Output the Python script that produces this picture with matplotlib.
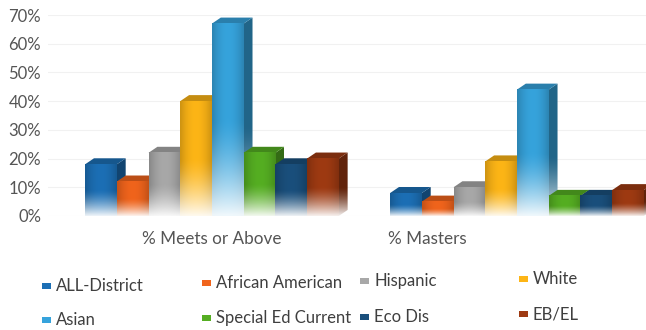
import numpy as np
import matplotlib
matplotlib.use("Agg")
import matplotlib.pyplot as plt
from matplotlib.patches import Polygon, Rectangle
from matplotlib.ticker import PercentFormatter

plt.rcParams['font.family'] = ['Lato', 'DejaVu Sans']

groups = ['% Meets or Above', '% Masters']
series = ['ALL-District', 'African American', 'Hispanic', 'White',
          'Asian', 'Special Ed Current', 'Eco Dis', 'EB/EL']
meets = [18, 12, 22, 40, 67, 22, 18, 20]
masters = [8, 5, 10, 19, 44, 7, 7, 9]
colors = ['#1c6fb5', '#f0641c', '#a8a8a8', '#fdb516',
          '#36a3dc', '#55ae22', '#1a4f7c', '#9e3a12']

values = np.array([meets, masters])

W, H = 646, 330
fig = plt.figure(figsize=(W / 100, H / 100), dpi=100)
ax = fig.add_axes([48 / W, 114 / H, 598 / W, 201 / H])

group_gap = 9.62          # distance between group centres, in bar widths
depth_x, depth_y = 0.28, 2.1


def face_gradient(base, n=80, m=20, fade=0.5, edge=0.18):
    t = np.linspace(0, 1, n)[:, None]
    s = np.linspace(-1, 1, m)[None, :]
    f = np.clip(1 - t / fade, 0, 1) ** 1.4 * 0.92
    shade = 1 - edge * s ** 2
    base = np.asarray(matplotlib.colors.to_rgb(base))
    img = base[None, None, :] * shade[..., None]
    img = img * (1 - f[..., None]) + f[..., None]
    return np.clip(img, 0, 1)


z = 2
for g in range(len(groups)):
    centre = g * group_gap
    for i, v in enumerate(values[g]):
        left = centre - 4 + i
        right = left + 1
        c = np.asarray(matplotlib.colors.to_rgb(colors[i]))

        # side face
        side = Polygon([(right, 0), (right + depth_x, depth_y),
                        (right + depth_x, v + depth_y), (right, v)],
                       closed=True, facecolor='none', edgecolor='none')
        ax.add_patch(side)
        im = ax.imshow(face_gradient(c * 0.62, edge=0.0, fade=0.45),
                       extent=[right, right + depth_x, 0, v + depth_y],
                       origin='lower', aspect='auto', interpolation='bilinear',
                       zorder=z)
        im.set_clip_path(side)

        # top face
        ax.add_patch(Polygon([(left, v), (left + depth_x, v + depth_y),
                              (right + depth_x, v + depth_y), (right, v)],
                             closed=True, facecolor=c * 0.78, edgecolor='none',
                             zorder=z + 0.1))

        # front face
        ax.imshow(face_gradient(c), extent=[left, right, 0, v],
                  origin='lower', aspect='auto', interpolation='bilinear',
                  zorder=z + 0.2)
        z += 1

ax.set_xlim(-5.17, 13.69)
ax.set_ylim(0, 70)
ax.set_yticks(np.arange(0, 71, 10))
ax.yaxis.set_major_formatter(PercentFormatter(decimals=0))
ax.set_xticks([0, 6.78])
ax.set_xticklabels(groups)
ax.tick_params(axis='y', length=0, pad=5, labelsize=12, labelcolor='#555555')
ax.tick_params(axis='x', length=0, pad=11, labelsize=12.3, labelcolor='#555555')
for sp in ax.spines.values():
    sp.set_visible(False)
ax.grid(axis='y', color='#f1f1f1', linewidth=0.8, zorder=0)
ax.set_axisbelow(True)

# legend, two rows of four
legend_pos = [(42, 286), (202, 283), (360, 281), (519, 279),
              (42, 320), (202, 318), (360, 317), (519, 314)]
for name, col, (lx, ly) in zip(series, colors, legend_pos):
    fig.patches.append(Rectangle((lx / W, (H - ly - 3) / H), 9 / W, 6 / H,
                                 transform=fig.transFigure, facecolor=col,
                                 edgecolor='none'))
    fig.text((lx + 14) / W, (H - ly) / H, name, fontsize=12,
             color='#3f3f3f', va='center', ha='left')

fig.savefig('out.png', dpi=100, facecolor='white')
